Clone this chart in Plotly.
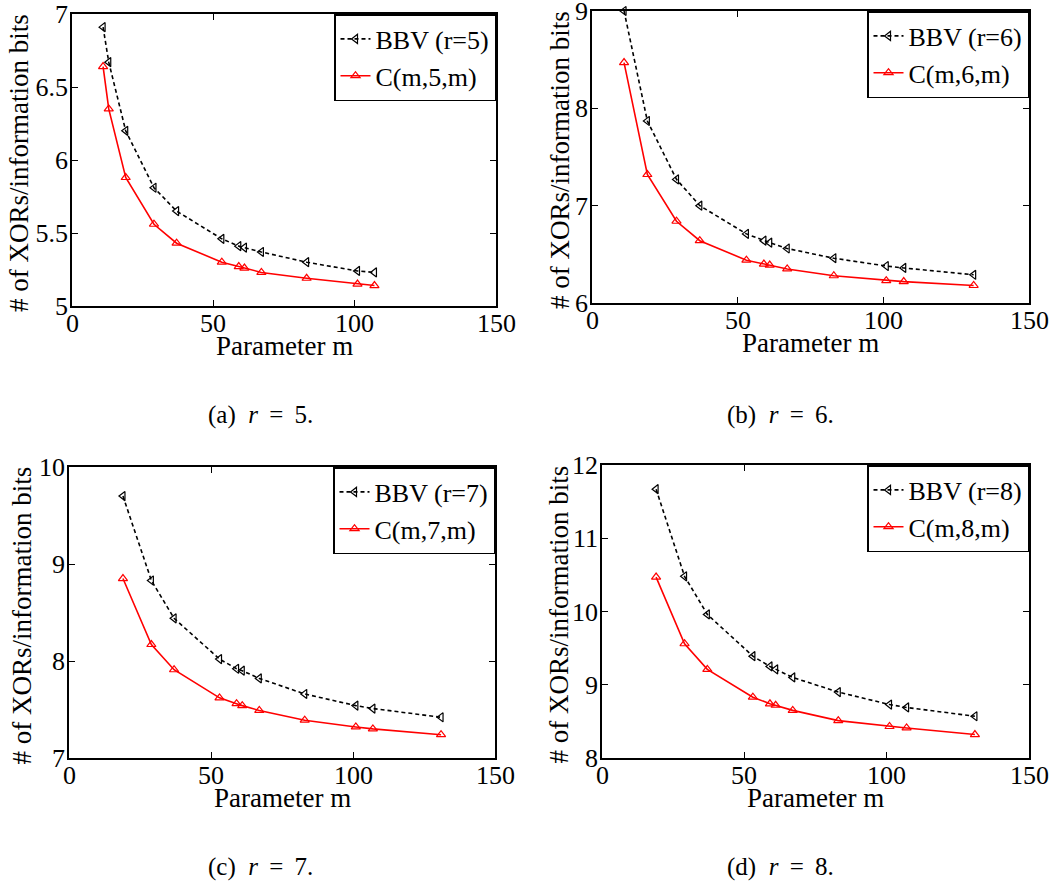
import plotly.graph_objects as go

# ---------------- data ----------------
m_a = [11, 13, 19, 29, 37, 53, 59, 61, 67, 83, 101, 107]
bbv5 = [6.91, 6.67, 6.20, 5.81, 5.65, 5.46, 5.41, 5.40, 5.37, 5.30, 5.24, 5.23]
c5 = [6.64, 6.35, 5.88, 5.56, 5.43, 5.30, 5.27, 5.26, 5.23, 5.19, 5.15, 5.14]

m_b = [11, 19, 29, 37, 53, 59, 61, 67, 83, 101, 107, 131]
bbv6 = [9.00, 7.87, 7.27, 7.00, 6.71, 6.64, 6.62, 6.56, 6.46, 6.38, 6.36, 6.29]
c6 = [8.47, 7.32, 6.84, 6.64, 6.44, 6.40, 6.39, 6.35, 6.28, 6.23, 6.22, 6.18]

m_cd = [19, 29, 37, 53, 59, 61, 67, 83, 101, 107, 131]
bbv7 = [9.70, 8.83, 8.44, 8.02, 7.92, 7.90, 7.82, 7.66, 7.54, 7.51, 7.42]
c7 = [8.85, 8.17, 7.91, 7.62, 7.56, 7.54, 7.49, 7.39, 7.32, 7.30, 7.24]
bbv8 = [11.67, 10.48, 9.96, 9.39, 9.25, 9.21, 9.10, 8.90, 8.73, 8.69, 8.57]
c8 = [10.47, 9.56, 9.21, 8.83, 8.74, 8.72, 8.65, 8.51, 8.43, 8.41, 8.32]

x_ticks = [0, 50, 100, 150]
y_ranges = [[5, 7], [6, 9], [7, 10], [8, 12]]
y_ticks = [[5, 5.5, 6, 6.5, 7], [6, 7, 8, 9], [7, 8, 9, 10], [8, 9, 10, 11, 12]]
r_vals = [5, 6, 7, 8]
captions = ["(a)", "(b)", "(c)", "(d)"]
x_title = "Parameter m"
y_title = "# of XORs/information bits"

panels = [(m_a, bbv5, c5), (m_b, bbv6, c6), (m_cd, bbv7, c7), (m_cd, bbv8, c8)]

# ---------------- layout geometry (pixels) ----------------
W, H = 1056, 884
px_boxes = [  # left, right, top, bottom
    (72, 496, 14, 306),
    (592, 1029, 11, 303),
    (69, 495, 467, 758),
    (602, 1029, 465, 758),
]
ytitle_x = [19, 560, 21, 558]
caption_pos = [(260, 415), (780, 415), (260, 867), (780, 867)]

FONT = "Liberation Serif"
NB = "\u00a0"
TH = "\u2009"


def px(xp):
    return xp / W


def py(yp):
    return 1 - yp / H


fig = go.Figure()
layout = dict(
    width=W, height=H,
    margin=dict(l=0, r=0, t=0, b=0, autoexpand=False),
    paper_bgcolor="white", plot_bgcolor="white",
    font=dict(family=FONT, size=26, color="black"),
    showlegend=True,
    annotations=[],
)

for i, ((mx, bbv, cc), (l, r, t, b)) in enumerate(zip(panels, px_boxes)):
    n = "" if i == 0 else str(i + 1)
    xa, ya = "x" + n, "y" + n
    leg = "legend" + n
    fig.add_trace(go.Scatter(
        x=mx, y=bbv, xaxis=xa, yaxis=ya, mode="lines+markers",
        name=f"BBV (r={r_vals[i]})", legend=leg, cliponaxis=False,
        line=dict(color="black", width=1.6, dash="4px,3px"),
        marker=dict(symbol="triangle-left-open", size=8, color="black",
                    line=dict(width=1.2, color="black")),
    ))
    fig.add_trace(go.Scatter(
        x=mx, y=cc, xaxis=xa, yaxis=ya, mode="lines+markers",
        name=f"C(m,{r_vals[i]},m)", legend=leg, cliponaxis=False,
        line=dict(color="#ff0000", width=1.6),
        marker=dict(symbol="triangle-up-open", size=8, color="#ff0000",
                    line=dict(width=1.2, color="#ff0000")),
    ))
    axis_common = dict(
        showline=True, linecolor="black", linewidth=1.5, mirror="ticks",
        ticks="inside", ticklen=6, tickwidth=1, tickcolor="black",
        showgrid=False, zeroline=False, automargin=False,
        ticklabeloverflow="allow",
        tickfont=dict(family=FONT, size=26, color="black"),
    )
    layout["xaxis" + n] = dict(
        axis_common, domain=[px(l), px(r)], range=[0, 150],
        tickvals=x_ticks, anchor=ya, showticklabels=False,
    )
    layout["yaxis" + n] = dict(
        axis_common, domain=[py(b), py(t)], range=y_ranges[i],
        tickvals=y_ticks[i], anchor=xa, ticklabelstandoff=-3,
    )
    layout[leg] = dict(
        x=px(r), y=py(t), xanchor="right", yanchor="top",
        bgcolor="white", bordercolor="black", borderwidth=1.5,
        font=dict(family=FONT, size=26, color="black"),
        itemwidth=30, tracegroupgap=0,
    )
    # x tick labels, placed through the x axis scale
    for tv in x_ticks:
        layout["annotations"].append(dict(
            text=str(tv), x=tv, xref=xa, y=py(b + 17), yref="paper",
            xanchor="center", yanchor="middle", showarrow=False,
            borderpad=0, font=dict(family=FONT, size=26, color="black"),
        ))
    # axis titles
    layout["annotations"].append(dict(
        text=x_title, x=px((l + r) / 2), y=py(b + 40),
        xref="paper", yref="paper", xanchor="center", yanchor="middle",
        showarrow=False, borderpad=0,
        font=dict(family=FONT, size=27, color="black"),
    ))
    layout["annotations"].append(dict(
        text=y_title, x=px(ytitle_x[i]), y=py((t + b) / 2 + 3),
        xref="paper", yref="paper", xanchor="center", yanchor="middle",
        textangle=-90,
        showarrow=False, font=dict(family=FONT, size=27, color="black"),
    ))
    cx, cy = caption_pos[i]
    cap = (f"{captions[i]}{NB}{NB}<i>r</i>{NB}{TH}={NB}{TH}{r_vals[i]}.")
    layout["annotations"].append(dict(
        text=cap, x=px(cx), y=py(cy), xref="paper", yref="paper",
        xanchor="center", yanchor="middle",
        showarrow=False, font=dict(family=FONT, size=25, color="black"),
    ))

fig.update_layout(**layout)
fig.write_html("out.html",
               config={"displayModeBar": False},
               post_script="document.body.style.margin='0';")
